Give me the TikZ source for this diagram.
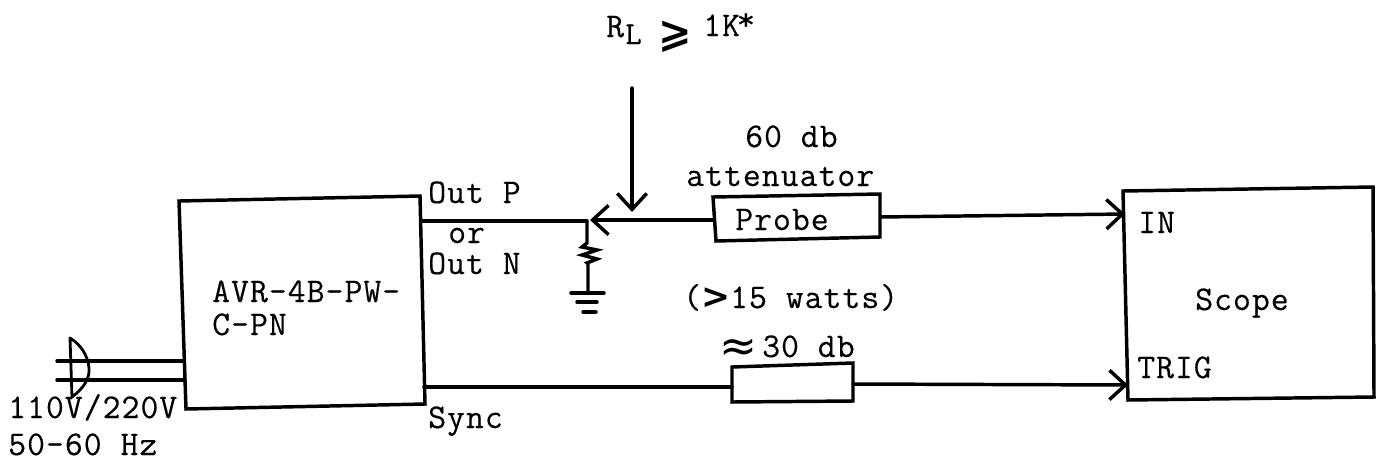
\documentclass[tikz,border=0pt]{standalone}
\usepackage{fontspec}
\usetikzlibrary{arrows.meta}
\setmonofont[LetterSpace=3,FakeBold=0.3]{Latin Modern Mono}
\newfontfamily\symfont{DejaVu Sans Bold}
\newfontfamily\apxfont{DejaVu Sans}
\tikzset{
  x=0.75pt,y=-0.75pt,
  wire/.style={line width=2.6pt,line join=miter,line cap=round},
  thinwire/.style={line width=2.1pt,line cap=round},
  barb/.style={wire,-{Straight Barb[length=12pt,width=22pt,line width=2.6pt]}},
  lab/.style={anchor=base west,inner sep=0pt,font=\ttfamily\fontsize{26}{26}\selectfont},
}
\begin{document}
\begin{tikzpicture}
\useasboundingbox (0,0) rectangle (1377,465);
% corners
\coordinate (a1) at (179,201); \coordinate (a2) at (420,196); \coordinate (a3) at (425,404); \coordinate (a4) at (186,409);
\coordinate (p1) at (713,197); \coordinate (p2) at (880,194); \coordinate (p3) at (880,237); \coordinate (p4) at (716,241);
\coordinate (t1) at (732,367); \coordinate (t2) at (853,363); \coordinate (t3) at (853,401); \coordinate (t4) at (732,402);
\coordinate (s1) at (1123,191); \coordinate (s2) at (1373,187); \coordinate (s3) at (1374,397); \coordinate (s4) at (1128,400);
\draw[wire] (a1)--(a2)--(a3)--(a4)--cycle;
\draw[wire] (p1)--(p2)--(p3)--(p4)--cycle;
\draw[wire] (t1)--(t2)--(t3)--(t4)--cycle;
\draw[wire] (s1)--(s2)--(s3)--(s4)--cycle;
% connection points
\coordinate (outp) at (422,221); \coordinate (junc) at (587,221);
\coordinate (pin) at (714,220); \coordinate (pout) at (880,217); \coordinate (in) at (1125,214);
\coordinate (sync) at (424,387); \coordinate (tin) at (732,387); \coordinate (tout) at (853,384); \coordinate (trig) at (1128,385);
\coordinate (top) at (632,88); \coordinate (tip) at (632,212);
\draw[wire] (outp)--(junc);
\draw[barb] (pin)--(590,220);
\draw[barb] (top)--(tip);
\draw[barb] (pout)--(in);
\draw[wire] (sync)--(tin);
\draw[barb] (tout)--(trig);
% load resistor and ground
\coordinate (gnd) at (588,293);
\draw[wire] (junc)--(587,243)--(582,247)--(597,250)--(582,255)--(597,259)--(587,263)--(588,264)--(gnd);
\draw[wire] (571,293)--(604,293);
\draw[wire] (577,302)--(597,302);
\draw[wire] (583,312)--(596,312);
% plug
\coordinate (m1) at (57,361); \coordinate (m2) at (57,380);
\draw[wire] (m1)--(184,361);
\draw[wire] (m2)--(184,380);
\draw[thinwire] (70,338)--(72,397) .. controls (84,388) and (90,378) .. (89,368) .. controls (88,355) and (80,344) .. (70,338);
% labels
\node[lab] (rr) at (606,37) {R};
\node[lab,font=\ttfamily\fontsize{24}{24}\selectfont] (rl) at (625,44) {L};
\node[anchor=base west,inner sep=0pt,font=\symfont\fontsize{30}{30}\selectfont] (ge) at (658,46) {⩾};
\node[lab] (onek) at (703,36) {1K};
\node[lab,font=\symfont\fontsize{22}{22}\selectfont] (star) at (738,35) {*};
\node[lab] (db60) at (745,147) {60 db};
\node[lab] (att) at (686,186) {attenuator};
\node[lab] (probe) at (735,230) {Probe};
\node[lab] (outP) at (428,203) {Out P};
\node[lab] (or) at (448,243) {or};
\node[lab] (outN) at (428,274) {Out N};
\node[lab] (avr1) at (212,302) {AVR-4B-PW-};
\node[lab] (avr2) at (212,335) {C-PN};
\node[lab] (watts) at (683,308) {({\symfont\fontsize{26}{26}\selectfont >}15 watts)};
\node[anchor=base west,inner sep=0pt,font=\apxfont\fontsize{34}{34}\selectfont] (apx) at (719,361) {≈};
\node[lab] (db30) at (762,357) {30 db};
\node[lab] (IN) at (1138,233) {IN};
\node[lab] (TRIG) at (1137,378) {TRIG};
\node[lab] (scope) at (1195,310) {Scope};
\node[lab] (sy) at (428,428) {Sync};
\node[lab] (volt) at (8,418) {110V/220V};
\node[lab] (hz) at (8,455) {50-60 Hz};
\end{tikzpicture}
\end{document}
